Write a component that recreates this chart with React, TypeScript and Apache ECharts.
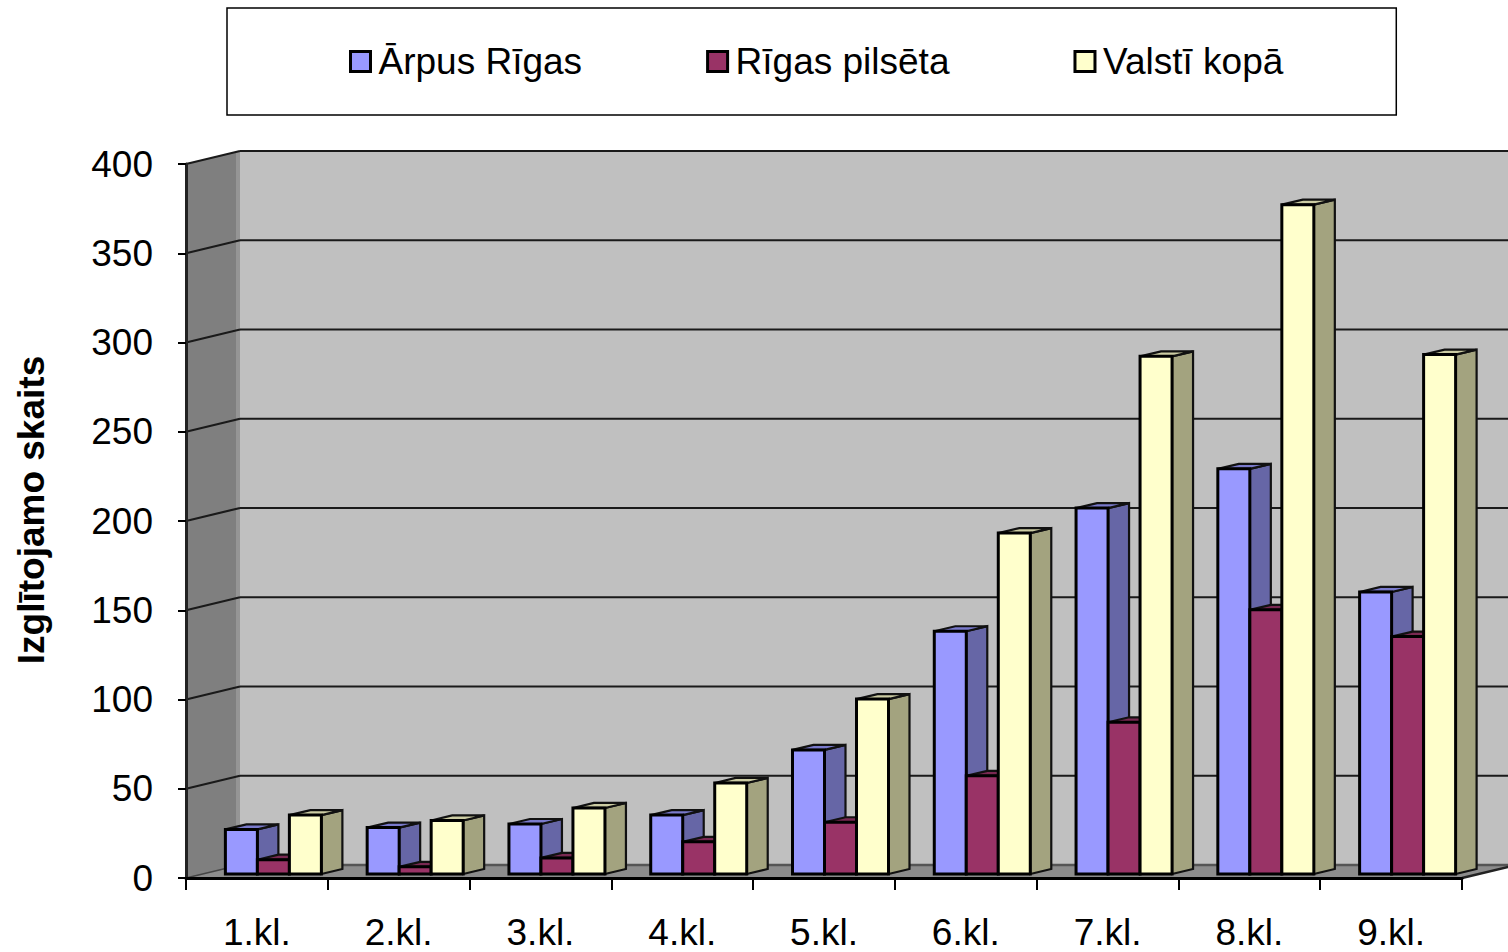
import React, { useEffect, useRef } from "react";
import * as echarts from "echarts";

const categories = ["1.kl.", "2.kl.", "3.kl.", "4.kl.", "5.kl.", "6.kl.", "7.kl.", "8.kl.", "9.kl."];
const arpusRigas = [25, 26, 28, 33, 69.5, 136, 205, 227, 158];
const rigasPilseta = [8, 4, 9, 18, 29, 55, 85, 148, 133];
const valstiKopa = [33, 30, 37, 51, 98, 191, 290, 375, 291];
const yTicks = [0, 50, 100, 150, 200, 250, 300, 350, 400];
const FONT = "Liberation Sans";
const WALL_DX = 54, WALL_DY = 13;
const BAR_DX = 16.5, BAR_DY = 4, BAR_W = 32, DEPTH_X = 21, DEPTH_Y = 5;

const poly = (points: number[][], fill: string, stroke = "none", lineWidth = 0) => ({
  type: "polygon",
  shape: { points },
  style: { fill, stroke, lineWidth, lineJoin: "miter" },
});
const line = (a: number[], b: number[], stroke: string, lineWidth: number) => ({
  type: "line",
  shape: { x1: a[0], y1: a[1], x2: b[0], y2: b[1] },
  style: { stroke, lineWidth },
});

function barSeries(name: string, values: number[], idx: number, front: string, side: string, top: string) {
  return {
    type: "custom",
    name,
    z: 3,
    itemStyle: { color: front },
    data: values.map((v, i) => [i, v]),
    renderItem: (_: any, api: any) => {
      const cat = api.value(0);
      const [cx, y0] = api.coord([cat, 0]);
      const [, y1] = api.coord([cat, api.value(1)]);
      const x = cx + BAR_DX + (idx - 1.5) * BAR_W;
      const x2 = x + BAR_W;
      const b = y0 - BAR_DY, t = y1 - BAR_DY;
      return {
        type: "group",
        children: [
          poly([[x2, b], [x2 + DEPTH_X, b - DEPTH_Y], [x2 + DEPTH_X, t - DEPTH_Y], [x2, t]], side, "#111", 2.2),
          poly([[x, t], [x + DEPTH_X, t - DEPTH_Y], [x2 + DEPTH_X, t - DEPTH_Y], [x2, t]], top, "#111", 2.2),
          poly([[x, b], [x2, b], [x2, t], [x, t]], front, "#000", 3),
        ],
      };
    },
  };
}

export default function App() {
  const ref = useRef<HTMLDivElement>(null);
  useEffect(() => {
    document.body.style.margin = "0";
    const chart = echarts.init(ref.current!, undefined, { renderer: "svg" });
    chart.setOption({
      animation: false,
      backgroundColor: "#ffffff",
      textStyle: { fontFamily: FONT },
      grid: { left: 186, top: 164, width: 1276, height: 714 },
      legend: {
        left: 227,
        top: 8,
        padding: [35, 113, 35, 122],
        itemGap: 124,
        itemWidth: 20,
        itemHeight: 20,
        icon: "rect",
        borderColor: "#000",
        borderWidth: 1.5,
        data: ["Ārpus Rīgas", "Rīgas pilsēta", "Valstī kopā"],
        itemStyle: { borderColor: "#000", borderWidth: 3 },
        textStyle: { fontFamily: FONT, fontSize: 37, color: "#000", padding: [0, 0, 0, 3] },
      },
      xAxis: {
        type: "category",
        data: categories,
        z: 5,
        axisLine: { lineStyle: { color: "#000", width: 3 } },
        axisTick: { show: true, length: 12, alignWithLabel: false, lineStyle: { color: "#000", width: 2 } },
        axisLabel: { fontFamily: FONT, fontSize: 37, color: "#000", margin: 36, interval: 0 },
        splitLine: { show: false },
      },
      yAxis: {
        type: "value",
        min: 0,
        max: 400,
        interval: 50,
        z: 5,
        name: "Izglītojamo skaits",
        nameLocation: "middle",
        nameGap: 136,
        nameTextStyle: { fontFamily: FONT, fontSize: 37, fontWeight: "bold", color: "#000", padding: [0, 0, 0, 22] },
        axisLine: { show: true, lineStyle: { color: "#222", width: 3 } },
        axisTick: { show: true, length: 8, lineStyle: { color: "#000", width: 2 } },
        axisLabel: { fontFamily: FONT, fontSize: 37, color: "#000", margin: 33 },
        splitLine: { show: false },
      },
      series: [
        {
          type: "custom",
          name: "walls",
          z: 1,
          silent: true,
          data: [[0, 0]],
          renderItem: (_: any, api: any) => {
            const band = api.size([1, 0])[0];
            const [c0, yB] = api.coord([0, 0]);
            const [, yT] = api.coord([0, 400]);
            const xL = c0 - band / 2;
            const [c8] = api.coord([8, 0]);
            const xR = c8 + band / 2;
            const dx = WALL_DX, dy = WALL_DY;
            return {
              type: "group",
              children: [
                poly([[xL + dx, yT - dy], [xR + dx, yT - dy], [xR + dx, yB - dy], [xL + dx, yB - dy]], "#c0c0c0"),
                poly([[xL, yB], [xL + dx, yB - dy], [xL + dx, yT - dy], [xL, yT]], "#7f7f7f"),
                line([xL + dx - 2, yT - dy], [xL + dx - 2, yB - dy], "#959595", 4),
                poly([[xL, yB], [xR, yB], [xR + dx, yB - dy], [xL + dx, yB - dy]], "#8c8c8c"),
                line([xL + dx, yB - dy], [xR + dx, yB - dy], "#555", 2.5),
                line([xL, yB], [xL + dx, yB - dy], "#444", 1.5),
                line([xR, yB], [xR + dx, yB - dy], "#222", 2.5),
              ],
            };
          },
        },
        {
          type: "custom",
          name: "gridlines",
          z: 2,
          silent: true,
          data: yTicks.filter((v) => v > 0).map((v) => [0, v]),
          renderItem: (_: any, api: any) => {
            const band = api.size([1, 0])[0];
            const [c0, y] = api.coord([0, api.value(1)]);
            const xL = c0 - band / 2;
            const [c8] = api.coord([8, 0]);
            const xR = c8 + band / 2;
            return {
              type: "group",
              children: [
                line([xL, y], [xL + WALL_DX, y - WALL_DY], "#1a1a1a", 2.2),
                line([xL + WALL_DX, y - WALL_DY], [xR + WALL_DX, y - WALL_DY], "#1a1a1a", 2.2),
              ],
            };
          },
        },
        barSeries("Ārpus Rīgas", arpusRigas, 0, "#9999ff", "#6666a6", "#7a7acc"),
        barSeries("Rīgas pilsēta", rigasPilseta, 1, "#993366", "#662244", "#7a2952"),
        barSeries("Valstī kopā", valstiKopa, 2, "#ffffcc", "#a3a37f", "#cccca3"),
      ],
    });
    return () => chart.dispose();
  }, []);
  return <div ref={ref} style={{ position: "absolute", left: 0, top: 0, width: 1508, height: 952 }} />;
}
